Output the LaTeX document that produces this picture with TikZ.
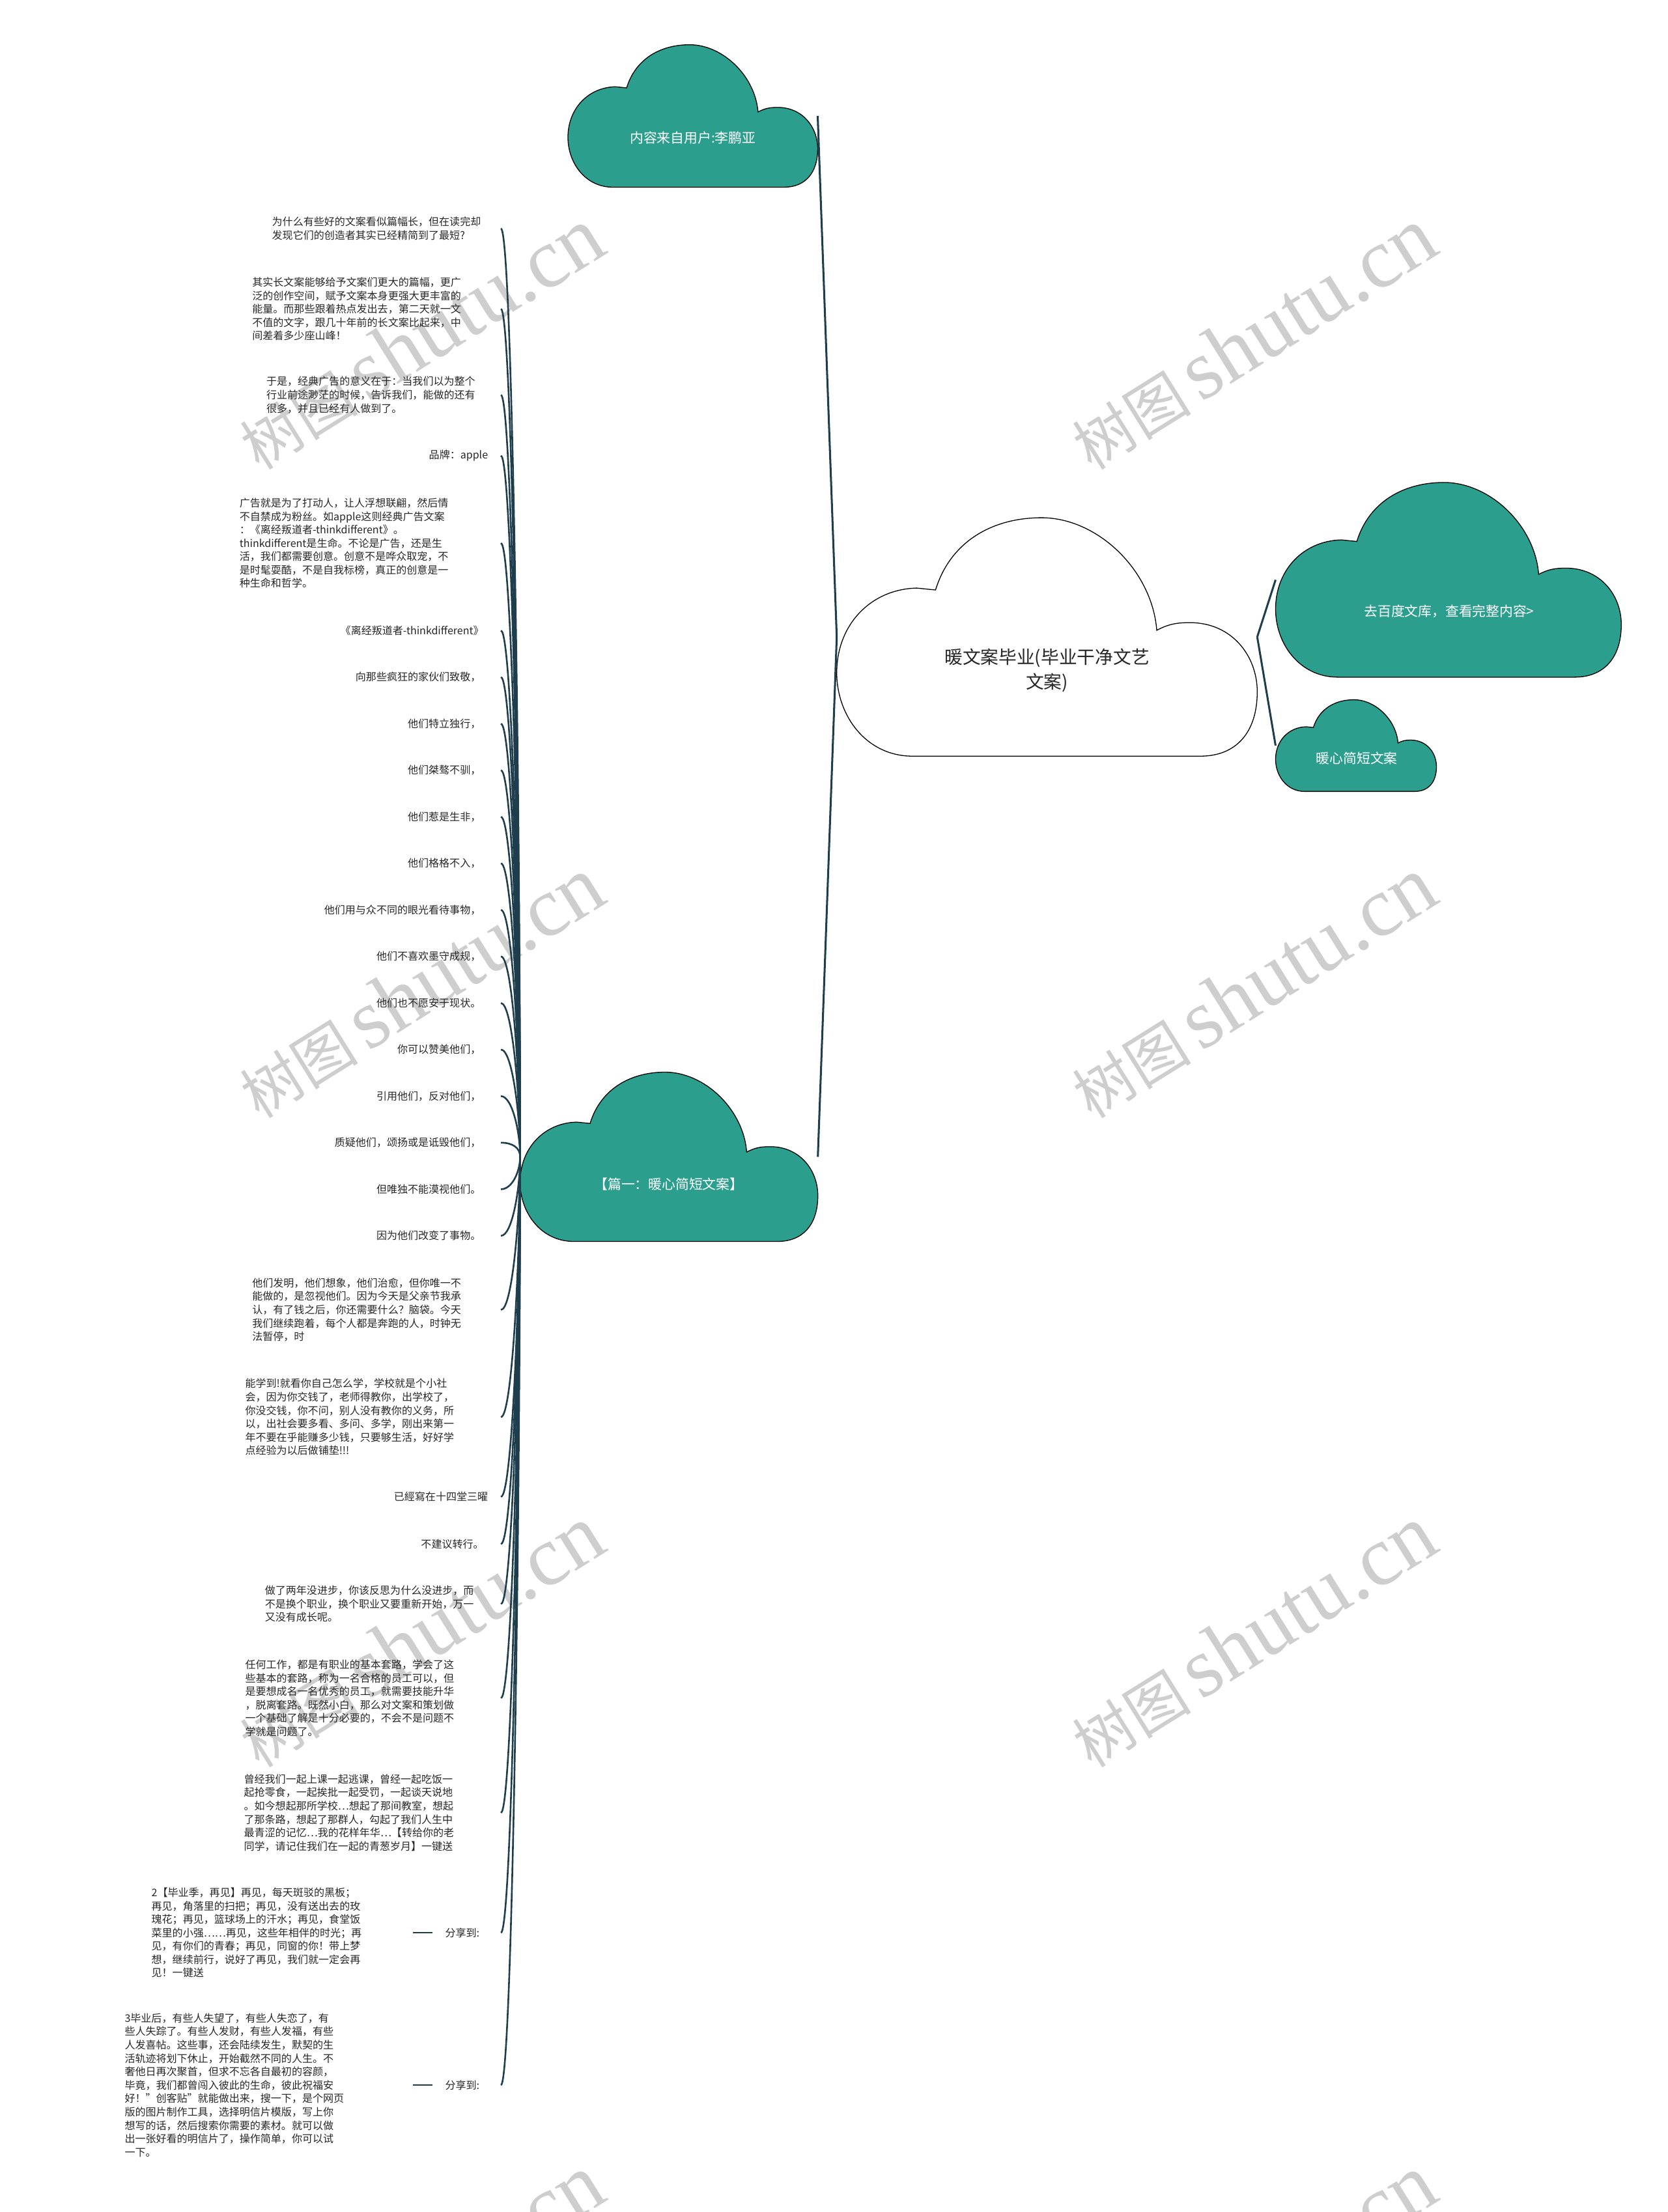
\documentclass[tikz,border=0pt]{standalone}
\usepackage{fontspec}
\setmainfont{Noto Sans CJK SC}
\newfontfamily\markfont{Liberation Serif}
\usetikzlibrary{positioning}

\definecolor{cloudteal}{RGB}{44,158,142}
\definecolor{linkblue}{RGB}{30,62,77}
\definecolor{markgray}{RGB}{206,206,206}

\tikzset{
  pics/cloudy/.style={code={
    \path[pic actions] (0.18,0) .. controls (0.07,0) and (0,0.17) .. (0,0.35)
      .. controls (0,0.55) and (0.08,0.70) .. (0.19,0.705)
      -- (0.235,0.697)
      .. controls (0.27,0.90) and (0.37,1) .. (0.487,1)
      .. controls (0.62,1) and (0.75,0.78) .. (0.761,0.528)
      .. controls (0.79,0.555) and (0.81,0.56) .. (0.84,0.56)
      .. controls (0.94,0.56) and (1,0.42) .. (1,0.27)
      .. controls (1,0.10) and (0.95,0) .. (0.865,0) -- cycle;
    \coordinate (-west) at (0,0.5);
    \coordinate (-east) at (1,0.5);
  }},
  greencloud/.style={fill=cloudteal, draw=black, line width=0.6pt},
  whitecloud/.style={fill=white, draw=black, line width=0.6pt},
  cloudtext/.style={text=white, inner sep=0pt, font=\fontsize{9.6}{12}\selectfont},
  roottext/.style={text=black!85, inner sep=0pt, align=center, font=\fontsize{12.8}{17.6}\selectfont},
  leaf/.style={anchor=east, align=left, inner sep=0pt, text=black!85, font=\fontsize{7.4}{9.5}\selectfont},
  link/.style={draw=linkblue, line width=1.2pt},
  trunk/.style={link, line width=1.4pt},
  rise/.style={link, out=90, in=0, in distance=8pt},
  sink/.style={link, out=-90, in=0, in distance=8pt},
  watermark/.style={rotate=32, text=markgray, inner sep=0pt, font=\fontsize{42}{42}\selectfont},
}

\newcommand\markword{树图\,{\markfont\fontsize{60}{60}\selectfont shutu.cn}}

\begin{document}
\begin{tikzpicture}[x=1pt, y=1pt]
  \useasboundingbox (0,0) rectangle (1182,-1568);

  % watermark
  \node[watermark] (markA) at (298,-240) {\markword};
  \node[watermark] (markB) at (888,-240) {\markword};
  \node[watermark] (markC) at (298,-700) {\markword};
  \node[watermark] (markD) at (888,-700) {\markword};
  \node[watermark] (markE) at (298,-1160) {\markword};
  \node[watermark] (markF) at (888,-1160) {\markword};
  \node[watermark] (markG) at (298,-1620) {\markword};
  \node[watermark] (markH) at (888,-1620) {\markword};

  % clouds
  \pic[whitecloud, xscale=298, yscale=169] (root) at (593,-536) {cloudy};
  \pic[greencloud, xscale=177, yscale=101] (author) at (402.5,-132.7) {cloudy};
  \pic[greencloud, xscale=211, yscale=120] (pian) at (368.6,-880) {cloudy};
  \pic[greencloud, xscale=245, yscale=138] (baidu) at (904,-480) {cloudy};
  \pic[greencloud, xscale=114, yscale=65] (warm) at (904,-561) {cloudy};

  \node[roottext] (rootText) at (742,-475) {暖文案毕业(毕业干净文艺\\文案)};
  \node[cloudtext] (authorText) at (491,-97.7) {内容来自用户:李鹏亚};
  \node[cloudtext] (pianText) at (474,-839.5) {【篇一：暖心简短文案】};
  \node[cloudtext] (baiduText) at (1027,-433.5) {去百度文库，查看完整内容>};
  \node[cloudtext] (warmText) at (961.6,-537.6) {暖心简短文案};

  % leaves
  \node[leaf] (why) at (341,-162) {为什么有些好的文案看似篇幅长，但在读完却\\发现它们的创造者其实已经精简到了最短?};
  \node[leaf] (longcopy) at (327,-219) {其实长文案能够给予文案们更大的篇幅，更广\\泛的创作空间，赋予文案本身更强大更丰富的\\能量。而那些跟着热点发出去，第二天就一文\\不值的文字，跟几十年前的长文案比起来，中\\间差着多少座山峰！};
  \node[leaf] (classic) at (337,-280) {于是，经典广告的意义在于：当我们以为整个\\行业前途渺茫的时候，告诉我们，能做的还有\\很多，并且已经有人做到了。};
  \node[leaf] (brand) at (346,-323) {品牌：apple};
  \node[leaf] (moving) at (318,-385) {广告就是为了打动人，让人浮想联翩，然后情\\不自禁成为粉丝。如apple这则经典广告文案\\：《离经叛道者-thinkdifferent》。\\thinkdifferent是生命。不论是广告，还是生\\活，我们都需要创意。创意不是哗众取宠，不\\是时髦耍酷，不是自我标榜，真正的创意是一\\种生命和哲学。};
  \node[leaf] (title) at (343,-447) {《离经叛道者-thinkdifferent》};
  \node[leaf] (salute) at (341,-480) {向那些疯狂的家伙们致敬，};
  \node[leaf] (standout) at (341,-513) {他们特立独行，};
  \node[leaf] (rebel) at (341,-546) {他们桀骜不驯，};
  \node[leaf] (trouble) at (341,-579) {他们惹是生非，};
  \node[leaf] (misfit) at (341,-612) {他们格格不入，};
  \node[leaf] (vision) at (341,-645) {他们用与众不同的眼光看待事物，};
  \node[leaf] (rules) at (341,-678) {他们不喜欢墨守成规，};
  \node[leaf] (content) at (341,-711) {他们也不愿安于现状。};
  \node[leaf] (praise) at (341,-744) {你可以赞美他们，};
  \node[leaf] (quote) at (341,-777) {引用他们，反对他们，};
  \node[leaf] (doubt) at (341,-810) {质疑他们，颂扬或是诋毁他们，};
  \node[leaf] (ignore) at (341,-843) {但唯独不能漠视他们。};
  \node[leaf] (change) at (341,-876) {因为他们改变了事物。};
  \node[leaf] (invent) at (327,-928.5) {他们发明，他们想象，他们治愈，但你唯一不\\能做的，是忽视他们。因为今天是父亲节我承\\认，有了钱之后，你还需要什么？脑袋。今天\\我们继续跑着，每个人都是奔跑的人，时钟无\\法暂停，时};
  \node[leaf] (learn) at (322,-1004.5) {能学到!就看你自己怎么学，学校就是个小社\\会，因为你交钱了，老师得教你，出学校了，\\你没交钱，你不问，别人没有教你的义务，所\\以，出社会要多看、多问、多学，刚出来第一\\年不要在乎能赚多少钱，只要够生活，好好学\\点经验为以后做铺垫!!!};
  \node[leaf] (written) at (346,-1061) {已經寫在十四堂三曜};
  \node[leaf] (stay) at (343,-1094.5) {不建议转行。};
  \node[leaf] (progress) at (336,-1137) {做了两年没进步，你该反思为什么没进步，而\\不是换个职业，换个职业又要重新开始，万一\\又没有成长呢。};
  \node[leaf] (routine) at (322,-1203.7) {任何工作，都是有职业的基本套路，学会了这\\些基本的套路，称为一名合格的员工可以，但\\是要想成名一名优秀的员工，就需要技能升华\\，脱离套路。既然小白，那么对文案和策划做\\一个基础了解是十分必要的，不会不是问题不\\学就是问题了。};
  \node[leaf] (memory) at (322,-1285) {曾经我们一起上课一起逃课，曾经一起吃饭一\\起抢零食，一起挨批一起受罚，一起谈天说地\\。如今想起那所学校…想起了那间教室，想起\\了那条路，想起了那群人，勾起了我们人生中\\最青涩的记忆…我的花样年华…【转给你的老\\同学，请记住我们在一起的青葱岁月】一键送};
  \node[leaf, inner xsep=9pt] (shareA) at (349,-1370) {分享到:};
  \node[leaf, inner xsep=9pt] (shareB) at (349,-1478) {分享到:};
  \node[leaf, text width=185pt] (farewell) at (292.6,-1370) {2【毕业季，再见】再见，每天斑驳的黑板；\\再见，角落里的扫把；再见，没有送出去的玫\\瑰花；再见，篮球场上的汗水；再见，食堂饭\\菜里的小强……再见，这些年相伴的时光；再\\见，有你们的青春；再见，同窗的你！带上梦\\想，继续前行，说好了再见，我们就一定会再\\见！一键送};
  \node[leaf, text width=204pt] (after) at (292.6,-1478) {3毕业后，有些人失望了，有些人失恋了，有\\些人失踪了。有些人发财，有些人发福，有些\\人发喜帖。这些事，还会陆续发生，默契的生\\活轨迹将划下休止，开始截然不同的人生。不\\奢他日再次聚首，但求不忘各自最初的容颜，\\毕竟，我们都曾闯入彼此的生命，彼此祝福安\\好！"创客贴"就能做出来，搜一下，是个网页\\版的图片制作工具，选择明信片模版，写上你\\想写的话，然后搜索你需要的素材。就可以做\\出一张好看的明信片了，操作简单，你可以试\\一下。};

  % connectors
  \draw[trunk] (root-west) -- (author-east);
  \draw[trunk] (root-west) -- (pian-east);
  \draw[trunk] (root-east) -- (baidu-west);
  \draw[trunk] (root-east) -- (warm-west);

  \coordinate (rail) at (355,0);
  \draw[rise] (pian-west) to (why.east -| rail);
  \draw[rise] (pian-west) to (longcopy.east -| rail);
  \draw[rise] (pian-west) to (classic.east -| rail);
  \draw[rise] (pian-west) to (brand.east -| rail);
  \draw[rise] (pian-west) to (moving.east -| rail);
  \draw[rise] (pian-west) to (title.east -| rail);
  \draw[rise] (pian-west) to (salute.east -| rail);
  \draw[rise] (pian-west) to (standout.east -| rail);
  \draw[rise] (pian-west) to (rebel.east -| rail);
  \draw[rise] (pian-west) to (trouble.east -| rail);
  \draw[rise] (pian-west) to (misfit.east -| rail);
  \draw[rise] (pian-west) to (vision.east -| rail);
  \draw[rise] (pian-west) to (rules.east -| rail);
  \draw[rise] (pian-west) to (content.east -| rail);
  \draw[rise] (pian-west) to (praise.east -| rail);
  \draw[rise] (pian-west) to (quote.east -| rail);
  \draw[rise] (pian-west) to (doubt.east -| rail);
  \draw[sink] (pian-west) to (ignore.east -| rail);
  \draw[sink] (pian-west) to (change.east -| rail);
  \draw[sink] (pian-west) to (invent.east -| rail);
  \draw[sink] (pian-west) to (learn.east -| rail);
  \draw[sink] (pian-west) to (written.east -| rail);
  \draw[sink] (pian-west) to (stay.east -| rail);
  \draw[sink] (pian-west) to (progress.east -| rail);
  \draw[sink] (pian-west) to (routine.east -| rail);
  \draw[sink] (pian-west) to (memory.east -| rail);
  \draw[sink] (pian-west) to (shareA.east -| rail);
  \draw[sink] (pian-west) to (shareB.east -| rail);

  \draw[link] (shareA.west) -- (farewell.east);
  \draw[link] (shareB.west) -- (after.east);
\end{tikzpicture}
\end{document}
